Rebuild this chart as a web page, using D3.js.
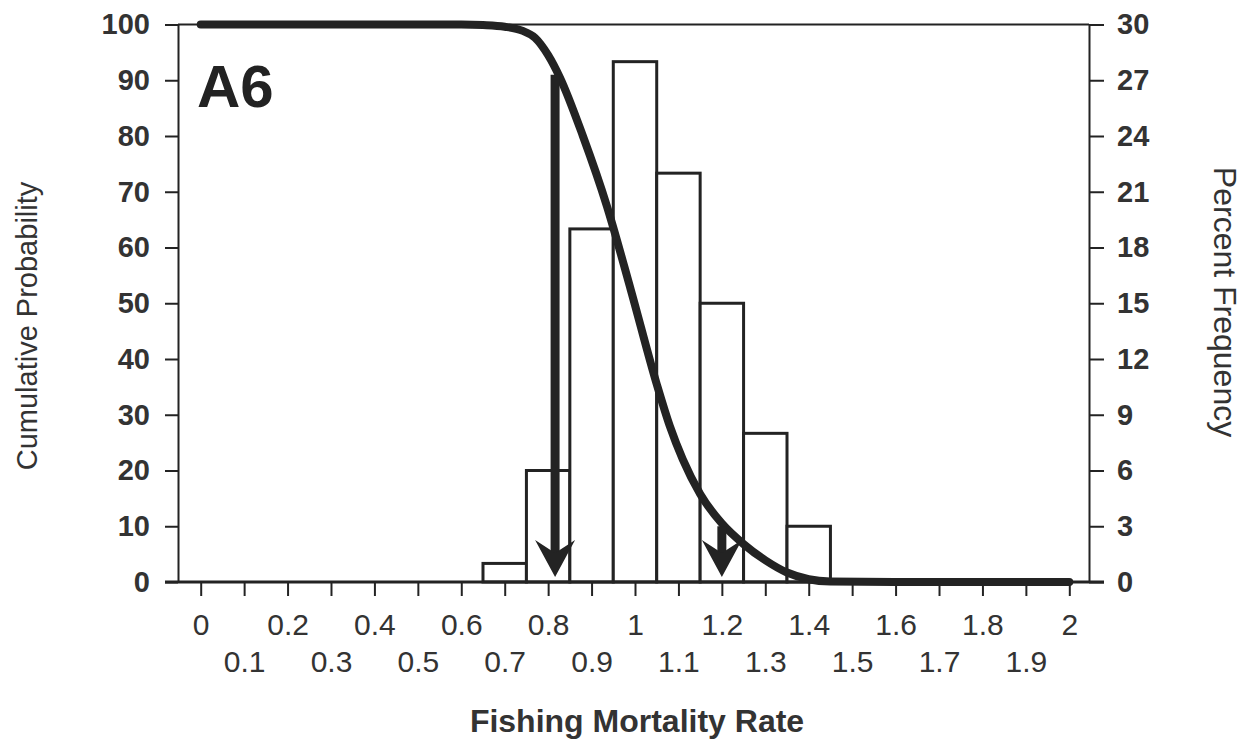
<!DOCTYPE html>
<html>
<head>
<meta charset="utf-8">
<script src="https://cdn.jsdelivr.net/npm/d3@7/dist/d3.min.js"></script>
<style>
  html, body { margin: 0; padding: 0; background: #ffffff; }
  svg { display: block; }
</style>
</head>
<body>
<svg id="chart" width="1245" height="740"></svg>
<script>
// ---------------- data ----------------
const xTickValues = [0, 0.1, 0.2, 0.3, 0.4, 0.5, 0.6, 0.7, 0.8, 0.9, 1.0,
                     1.1, 1.2, 1.3, 1.4, 1.5, 1.6, 1.7, 1.8, 1.9, 2.0];
const leftTickValues = [0, 10, 20, 30, 40, 50, 60, 70, 80, 90, 100];
const rightTickValues = [0, 3, 6, 9, 12, 15, 18, 21, 24, 27, 30];

// histogram (percent frequency), bins of width 0.1 centred on these values
const binCenters = [0.7, 0.8, 0.9, 1.0, 1.1, 1.2, 1.3, 1.4];
const percentFrequency = [1, 6, 19, 28, 22, 15, 8, 3];
const binWidth = 0.1;

// cumulative probability curve
const cumF =    [0, 0.3, 0.6, 0.65, 0.7, 0.74, 0.77, 0.80, 0.827, 0.88, 0.935,
                 0.99, 1.05, 1.08, 1.11, 1.15, 1.2, 1.25, 1.3, 1.35, 1.4, 1.45, 1.6, 2.0];
const cumProb = [100, 100, 100, 99.9, 99.6, 98.9, 97.6, 94.5, 90.5, 80.0, 67.5,
                 52.5, 35.5, 28.0, 22.0, 15.8, 10.5, 6.8, 3.9, 1.7, 0.5, 0.1, 0, 0];

// arrows: fishing mortality at 90% and 10% cumulative probability
const arrowF = [0.816, 1.2];
const arrowProb = [91, 10];

const panelLabel = "A6";
const xTitle = "Fishing Mortality Rate";
const yLeftTitle = "Cumulative Probability";
const yRightTitle = "Percent Frequency";

// ---------------- layout ----------------
const frameLeft = 178, frameRight = 1089, frameTop = 24.5, frameBottom = 582;
const ink = "#232323";
const textInk = "#333333";
const font = "'Liberation Sans', Arial, Helvetica, sans-serif";

const svg = d3.select("#chart");

const x = d3.scaleLinear().domain([0, 2]).range([200.7, 1069.3]);
const yL = d3.scaleLinear().domain([0, 100]).range([frameBottom, frameTop]);
const yR = d3.scaleLinear().domain([0, 30]).range([frameBottom, frameTop]);

// ---------------- histogram bars ----------------
const bars = binCenters.map((c, i) => ({ c, v: percentFrequency[i] }));
svg.append("g").selectAll("rect").data(bars).join("rect")
  .attr("x", d => x(d.c - binWidth / 2))
  .attr("width", d => x(d.c + binWidth / 2) - x(d.c - binWidth / 2))
  .attr("y", d => yR(d.v))
  .attr("height", d => yR(0) - yR(d.v))
  .attr("fill", "#ffffff")
  .attr("stroke", ink)
  .attr("stroke-width", 3);

// ---------------- frame (top border + axes lines) ----------------
svg.append("line")
  .attr("x1", frameLeft).attr("x2", frameRight)
  .attr("y1", frameTop).attr("y2", frameTop)
  .attr("stroke", ink).attr("stroke-width", 2);

// left axis
const leftAxis = svg.append("g")
  .attr("transform", `translate(${frameLeft},0)`)
  .call(d3.axisLeft(yL).tickValues(leftTickValues).tickSize(13).tickSizeOuter(0).tickPadding(15));
// right axis
const rightAxis = svg.append("g")
  .attr("transform", `translate(${frameRight},0)`)
  .call(d3.axisRight(yR).tickValues(rightTickValues).tickSize(15).tickSizeOuter(0).tickPadding(13));

[leftAxis, rightAxis].forEach(g => {
  g.select(".domain").attr("stroke", ink).attr("stroke-width", 2);
  g.selectAll(".tick line").attr("stroke", ink).attr("stroke-width", 2);
  g.selectAll(".tick text")
    .attr("fill", textInk)
    .style("font-family", font)
    .style("font-size", "29px")
    .style("font-weight", "bold");
});

// x axis
const xAxis = svg.append("g")
  .attr("transform", `translate(0,${frameBottom})`)
  .call(d3.axisBottom(x).tickValues(xTickValues).tickSize(14).tickSizeOuter(0)
        .tickPadding(18).tickFormat(d3.format(".1~f")));
xAxis.select(".domain").remove();
xAxis.selectAll(".tick line").attr("stroke", ink).attr("stroke-width", 2);
xAxis.selectAll(".tick text")
  .attr("fill", textInk)
  .style("font-family", font)
  .style("font-size", "30px")
  .attr("y", (d, i) => i % 2 === 0 ? 32 : 69);

// baseline (thicker)
svg.append("line")
  .attr("x1", frameLeft - 13).attr("x2", frameRight + 15)
  .attr("y1", frameBottom).attr("y2", frameBottom)
  .attr("stroke", ink).attr("stroke-width", 3);

// ---------------- cumulative curve ----------------
const curvePts = cumF.map((f, i) => [f, cumProb[i]]);
svg.append("path")
  .datum(curvePts)
  .attr("d", d3.line().x(d => x(d[0])).y(d => yL(d[1])).curve(d3.curveMonotoneX))
  .attr("fill", "none")
  .attr("stroke", ink)
  .attr("stroke-width", 8)
  .attr("stroke-linecap", "round")
  .attr("stroke-linejoin", "round");

// ---------------- arrows ----------------
const headW = 40, headH = 37, notch = 24, tipGap = 5;
const arrows = arrowF.map((f, i) => ({ f, p: arrowProb[i] }));
const ag = svg.append("g");
arrows.forEach(a => {
  const ax = x(a.f);
  const tipY = frameBottom - tipGap;
  ag.append("line")
    .attr("x1", ax).attr("x2", ax)
    .attr("y1", yL(a.p)).attr("y2", tipY - notch)
    .attr("stroke", ink).attr("stroke-width", 9);
  ag.append("path")
    .attr("d", `M${ax},${tipY} L${ax - headW / 2},${tipY - headH} L${ax},${tipY - notch} L${ax + headW / 2},${tipY - headH} Z`)
    .attr("fill", ink);
});

// ---------------- texts ----------------
svg.append("text")
  .attr("x", 197).attr("y", 107)
  .style("font-family", font).style("font-size", "60px").style("font-weight", "bold")
  .attr("fill", "#222222")
  .text(panelLabel);

svg.append("text")
  .attr("x", 637).attr("y", 732)
  .attr("text-anchor", "middle")
  .style("font-family", font).style("font-size", "32px").style("font-weight", "bold")
  .attr("fill", textInk)
  .text(xTitle);

svg.append("text")
  .attr("transform", "translate(37,326) rotate(-90)")
  .attr("text-anchor", "middle")
  .style("font-family", font).style("font-size", "29px")
  .attr("fill", textInk)
  .text(yLeftTitle);

svg.append("text")
  .attr("transform", "translate(1214,302) rotate(90)")
  .attr("text-anchor", "middle")
  .style("font-family", font).style("font-size", "32px")
  .attr("fill", textInk)
  .text(yRightTitle);
</script>
</body>
</html>
